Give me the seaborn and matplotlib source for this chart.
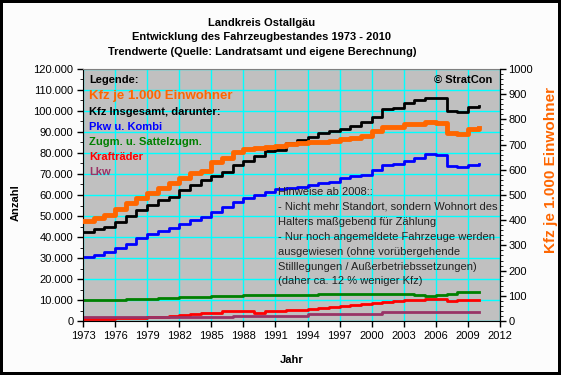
import matplotlib
matplotlib.use('Agg')
import matplotlib.pyplot as plt
import seaborn as sns
from matplotlib.ticker import MultipleLocator, FuncFormatter

# Kfz-Bestand Landkreis Ostallgaeu 1973 - 2010
years = list(range(1973, 2011))

kfz_je_1000 = [398, 407, 419, 443, 467, 487, 509, 526, 546, 566,
               586, 596, 630, 648, 672, 681, 685, 689, 694, 701,
               705, 709, 711, 716, 722, 728, 734, 755, 771, 771,
               780, 780, 788, 784, 745, 742, 761, 767]

kfz_gesamt = [42500, 43700, 44900, 47300, 50000, 52900, 55200, 57600, 59200, 62400,
              64800, 67100, 69000, 71100, 74300, 76200, 78600, 81000, 81600, 84600,
              86200, 87800, 89400, 90500, 91300, 93000, 94900, 97000, 101000, 101600,
              104000, 105200, 106300, 106000, 100000, 99400, 102000, 102500]

pkw = [30600, 31300, 33000, 34600, 36700, 39400, 41400, 43000, 44100, 46200,
       48100, 49700, 52000, 54500, 56800, 58400, 60000, 61600, 62700, 63200,
       64000, 64800, 65600, 66400, 68000, 69000, 69500, 71900, 74300, 74800,
       76200, 77500, 79500, 79200, 73800, 73200, 74300, 74800]

zugm = [10150, 10150, 10150, 10150, 10500, 10500, 10500, 11100, 11100, 11600,
        11600, 11600, 12000, 12000, 12000, 12500, 12500, 12500, 12500, 12500,
        12500, 12500, 13000, 13000, 13000, 13000, 13000, 13000, 13000, 13000,
        13000, 12500, 12000, 12300, 13000, 13700, 13700, 13700]

kraftraeder = [800, 900, 1100, 1300, 1500, 1600, 1800, 2000, 2400, 2900,
               3500, 4000, 4000, 4600, 4600, 4600, 4000, 4600, 4600, 5100,
               5100, 5600, 6000, 6500, 7100, 7600, 8200, 8700, 9200, 9700,
               9800, 9800, 10300, 10300, 9400, 9800, 9800, 9800]

lkw = [1700, 1700, 1700, 1700, 1700, 1700, 2050, 2050, 2050, 2050,
       2050, 2050, 2050, 2050, 2500, 2500, 2500, 2500, 2500, 2500,
       2500, 3200, 3200, 3200, 3200, 3200, 3500, 3500, 4100, 4100,
       4100, 4100, 4100, 4100, 4100, 4100, 4100, 4100]

plt.rcParams['font.family'] = ['Liberation Sans', 'DejaVu Sans']
plt.rcParams['font.size'] = 8

W, H = 561, 375
fig = plt.figure(figsize=(W / 100, H / 100), dpi=100, facecolor='#FCFCFC',
                 edgecolor='black', linewidth=3)
ax = fig.add_axes([83 / W, 1 - 321 / H, 417 / W, 252 / H])
ax.set_facecolor('#C0C0C0')

series = [(kfz_gesamt, 'black'), (pkw, '#0000FF'), (zugm, '#008000'),
          (kraftraeder, '#FF0000'), (lkw, '#993366')]
for vals, col in series:
    sns.lineplot(x=years, y=vals, ax=ax, color=col, lw=2, drawstyle='steps-post')

ax2 = ax.twinx()
sns.lineplot(x=years, y=kfz_je_1000, ax=ax2, color='#FF6600', lw=3.5,
             drawstyle='steps-post')

ax.set_xlim(1973, 2012)
ax.set_ylim(0, 120000)
ax2.set_ylim(0, 1000)
ax.set_xticks(range(1973, 2013, 3))
ax.yaxis.set_major_locator(MultipleLocator(10000))
ax.yaxis.set_minor_locator(MultipleLocator(5000))
ax.yaxis.set_major_formatter(FuncFormatter(lambda v, p: f'{int(v):,}'.replace(',', '.')))
ax2.yaxis.set_major_locator(MultipleLocator(100))
ax2.yaxis.set_minor_locator(MultipleLocator(20))

ax.grid(True, which='major', color='#00FFFF', lw=1)
ax.tick_params(axis='both', which='major', length=4, width=1, labelsize=8, pad=3)
ax.tick_params(axis='y', which='minor', length=2)
ax2.tick_params(axis='y', which='major', length=4, width=1, labelsize=8, pad=2)
ax2.tick_params(axis='y', which='minor', length=2)

for s in ['left', 'bottom', 'right']:
    ax.spines[s].set_color('black')
ax.spines['top'].set_color('#808080')
ax2.spines['top'].set_visible(False)
ax2.spines['left'].set_visible(False)
ax2.spines['bottom'].set_visible(False)

ax.set_xlabel('Jahr', fontweight='bold', fontsize=8)
ax.xaxis.set_label_coords(0.5, -0.135)
ax.set_ylabel('Anzahl', fontweight='bold', fontsize=8)
ax.yaxis.set_label_coords(-0.15, 0.47)
ax2.set_ylabel('Kfz je 1.000 Einwohner', fontweight='bold', fontsize=11, color='#FF6600')
ax2.yaxis.set_label_coords(1.105, 0.6)


def px(x, y):
    return x / W, 1 - y / H


# Titel
for y, t in [(23, 'Landkreis Ostallgäu'),
             (37, 'Entwicklung des Fahrzeugbestandes 1973 - 2010'),
             (52, 'Trendwerte (Quelle: Landratsamt und eigene Berechnung)')]:
    fig.text(*px(262, y), t, ha='center', va='center', fontweight='bold', fontsize=8)

# Legende als Text
legend = [(80, 'Legende:', 'black', 8), (96, 'Kfz je 1.000 Einwohner', '#FF6600', 9.5),
          (112, 'Kfz Insgesamt, darunter:', 'black', 8), (127, 'Pkw u. Kombi', '#0000FF', 8),
          (142, 'Zugm. u. Sattelzugm.', '#008000', 8), (157, 'Krafträder', '#FF0000', 8),
          (172, 'Lkw', '#993366', 8)]
for y, t, c, fs in legend:
    fig.text(*px(89, y), t, ha='left', va='center', fontweight='bold', fontsize=fs, color=c)

fig.text(*px(492, 80), '© StratCon', ha='right', va='center', fontweight='bold', fontsize=8)

hinweis = ['Hinweise ab 2008::',
           '- Nicht mehr Standort, sondern Wohnort des',
           'Halters maßgebend für Zählung',
           '- Nur noch angemeldete Fahrzeuge werden',
           'ausgewiesen (ohne vorübergehende',
           'Stilllegungen / Außerbetriebssetzungen)',
           '(daher ca. 12 % weniger Kfz)']
for i, t in enumerate(hinweis):
    fig.text(*px(278, 192 + i * 14.9), t, ha='left', va='center', fontsize=8, color='#222222')

plt.savefig('out.png', dpi=100)
